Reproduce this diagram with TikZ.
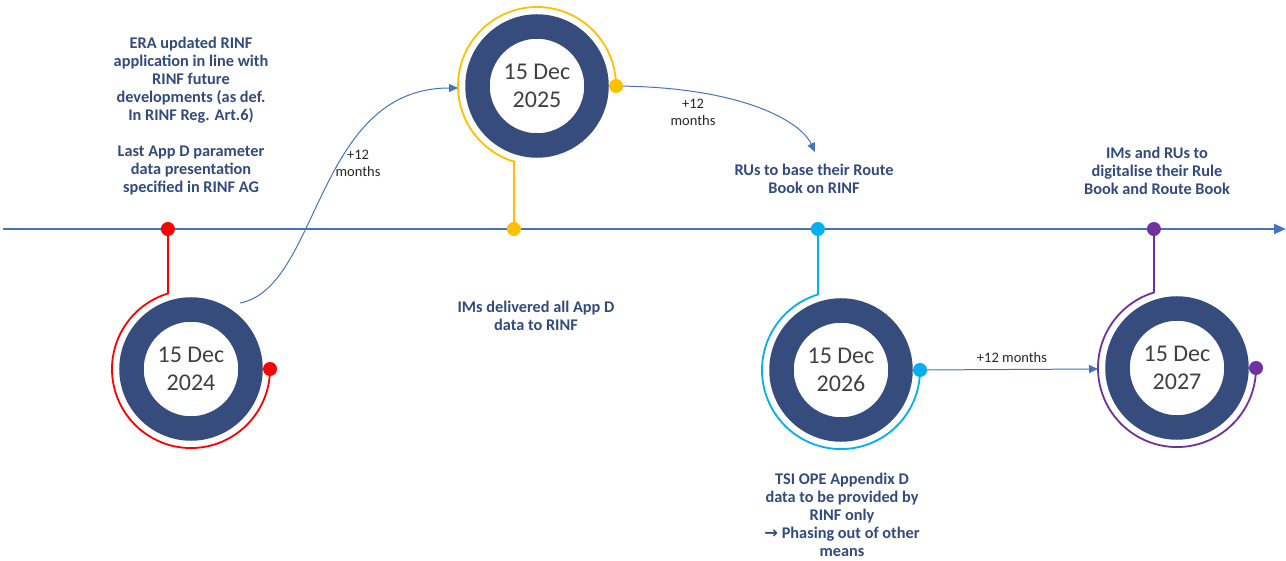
\documentclass[tikz,border=0pt]{standalone}
\usepackage{fontspec}
\setmainfont{Carlito}
\newfontfamily\arrowfont{DejaVu Sans}
\usetikzlibrary{arrows.meta}
\definecolor{navy}{RGB}{53,76,125}
\definecolor{tl}{RGB}{68,114,196}
\definecolor{txt}{RGB}{50,74,125}
\definecolor{dgrey}{RGB}{64,64,64}
\definecolor{cred}{RGB}{255,0,0}
\definecolor{corange}{RGB}{255,192,0}
\definecolor{ccyan}{RGB}{0,176,240}
\definecolor{cpurple}{RGB}{112,48,160}
\begin{document}
\begin{tikzpicture}[x=1pt,y=1pt,
 ring/.style={circle, draw=navy, line width=24.5pt, minimum size=119pt, inner sep=0pt, align=center, font=\fontsize{24}{28}\selectfont, text=dgrey},
 lbl/.style={align=center, text=txt, font=\bfseries\fontsize{16.3}{18}\selectfont},
 note/.style={align=center, text=black!85, font=\fontsize{14.5}{17}\selectfont},
 dot/.style={circle, fill=#1, minimum size=14pt, inner sep=0pt},
 arcline/.style={draw=#1, line width=1.8pt},
 conn/.style={draw=tl, line width=1pt, -{Triangle[length=9pt,width=8pt]}},
]
\useasboundingbox (0,0) rectangle (1286,560);
% timeline
\coordinate (tlstart) at (3,331);
\coordinate (tlend) at (1286,331);
\draw[tl, line width=2pt, -{Triangle[length=12pt,width=10pt]}] (tlstart) -- (tlend);
% coordinates
\coordinate (t1) at (167.9,331); \coordinate (r1) at (270,191);
\coordinate (t2) at (513.9,331); \coordinate (r2) at (616,474);
\coordinate (t3) at (817.9,331); \coordinate (r3) at (920,190);
\coordinate (t4) at (1153.9,331); \coordinate (r4) at (1256,192);
% coloured arcs
\draw[arcline=cred] (t1) -- (167.9,266.5) arc[start angle=107,end angle=360,radius=79];
\draw[arcline=corange] (r2) arc[start angle=0,end angle=253,radius=79] -- (t2);
\draw[arcline=ccyan] (t3) -- (817.9,265.5) arc[start angle=107,end angle=360,radius=79];
\draw[arcline=cpurple] (t4) -- (1153.9,267.5) arc[start angle=107,end angle=360,radius=79];
% rings
\node[ring] (d1) at (191,191) {15 Dec\\2024};
\node[ring] (d2) at (537,474) {15 Dec\\2025};
\node[ring] (d3) at (841,190) {15 Dec\\2026};
\node[ring] (d4) at (1177,192) {15 Dec\\2027};
% dots
\node[dot=cred] (dt1) at (t1) {}; \node[dot=cred] (dr1) at (r1) {};
\node[dot=corange] (dt2) at (t2) {}; \node[dot=corange] (dr2) at (r2) {};
\node[dot=ccyan] (dt3) at (t3) {}; \node[dot=ccyan] (dr3) at (r3) {};
\node[dot=cpurple] (dt4) at (t4) {}; \node[dot=cpurple] (dr4) at (r4) {};
% connectors
\coordinate (s1) at (240,257);
\coordinate (e1) at (458,472);
\coordinate (e2) at (815,408);
\coordinate (e3) at (1098,191);
\draw[conn] (s1) .. controls (320,272) and (315,472) .. (e1);
\draw[conn] (dr2) .. controls (740,472) and (800,440) .. (e2);
\draw[conn] (dr3) -- (e3);
% labels
\node[lbl] (n1) at (191,444) {ERA updated RINF\\application in line with\\RINF future\\developments (as def.\\In RINF Reg. Art.6)\\[18pt]Last App D parameter\\data presentation\\specified in RINF AG};
\node[note] (n2) at (358,397) {+12\\months};
\node[note] (n3) at (693,448) {+12\\months};
\node[note] (n4) at (1012,202) {+12 months};
\node[lbl] (n5) at (536,244) {IMs delivered all App D\\data to RINF};
\node[lbl] (n6) at (814,381) {RUs to base their Route\\Book on RINF};
\node[lbl] (n7) at (1157,389) {IMs and RUs to\\digitalise their Rule\\Book and Route Book};
\node[lbl] (n8) at (842,45) {TSI OPE Appendix D\\data to be provided by\\RINF only\\{\arrowfont\bfseries →} Phasing out of other\\means};
\end{tikzpicture}
\end{document}
